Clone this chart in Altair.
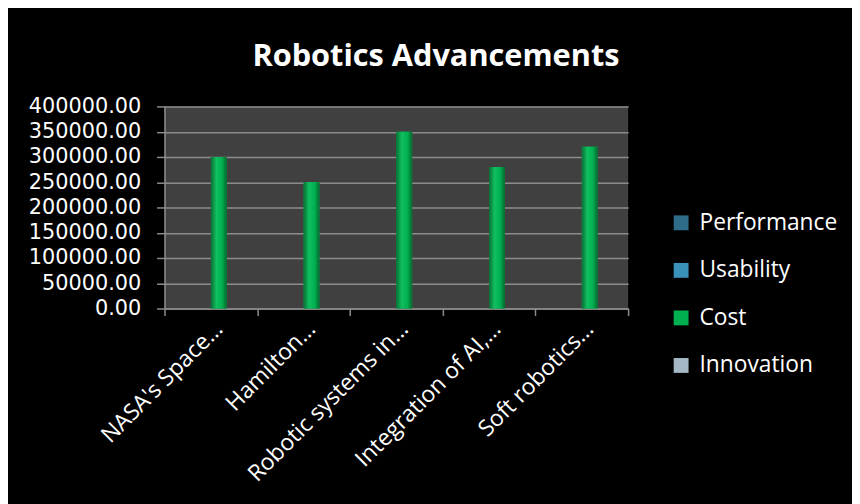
import altair as alt
import pandas as pd

categories = ["NASA's Space…", "Hamilton…", "Robotic systems in…", "Integration of AI,…", "Soft robotics…"]
series_names = ["Performance", "Usability", "Cost", "Innovation"]
performance = [0, 0, 0, 0, 0]
usability = [0, 0, 0, 0, 0]
cost = [300000, 250000, 350000, 280000, 320000]
innovation = [0, 0, 0, 0, 0]
series_colors = ["#2E6C89", "#3A92BA", "#00B050", "#A4B8C5"]
y_ticks = [0, 50000, 100000, 150000, 200000, 250000, 300000, 350000, 400000]

rows = []
for name, vals in zip(series_names, [performance, usability, cost, innovation]):
    for c, v in zip(categories, vals):
        rows.append({"category": c, "series": name, "value": v})
df = pd.DataFrame(rows)

FONT = "Open Sans"

x_enc = alt.X("category:N", sort=categories, title=None,
              scale=alt.Scale(paddingInner=0, paddingOuter=0),
              axis=alt.Axis(labelAngle=-45, labelAlign="right", labelBaseline="top",
                            labelColor="white", labelFontSize=23, labelFont=FONT,
                            labelPadding=2, tickBand="extent", tickSize=7,
                            tickColor="#8c8c8c", tickWidth=1.5, domainColor="#8c8c8c",
                            domainWidth=1.5, grid=False, labelLimit=300))
xoff_enc = alt.XOffset("series:N", sort=series_names,
                       scale=alt.Scale(paddingInner=0, paddingOuter=0.925))
y_enc = alt.Y("value:Q", title=None,
              scale=alt.Scale(domain=[0, 400000], nice=False),
              axis=alt.Axis(values=y_ticks, format=".2f", labelColor="white",
                            labelFontSize=21, labelFont="DejaVu Sans", labelPadding=16,
                            tickSize=8, tickColor="#8c8c8c", tickWidth=1.5,
                            domainColor="#8c8c8c", domainWidth=1.5,
                            gridColor="#8c8c8c", gridWidth=1.5))

base = alt.Chart(df).encode(x=x_enc, xOffset=xoff_enc, y=y_enc)

bars = base.mark_bar().encode(
    color=alt.Color("series:N", sort=series_names,
                    scale=alt.Scale(domain=series_names, range=series_colors),
                    legend=alt.Legend(title=None, orient="none", legendX=510, legendY=106,
                                      symbolType="square", symbolSize=225,
                                      symbolStrokeWidth=0, labelColor="white",
                                      labelFontSize=23, labelFont=FONT,
                                      rowPadding=24, labelOffset=7))
)

grad = alt.Gradient(gradient="linear", x1=0, x2=1, y1=0, y2=0,
                    stops=[alt.GradientStop(color="#0a6e36", offset=0),
                           alt.GradientStop(color="#10c060", offset=0.35),
                           alt.GradientStop(color="#00b050", offset=0.7),
                           alt.GradientStop(color="#07682f", offset=1)])
cost_bars = base.transform_filter(alt.datum.series == "Cost").mark_bar(fill=grad)

chart = alt.layer(bars, cost_bars).properties(
    width=468, height=204,
    autosize=alt.AutoSizeParams(type="none"),
    padding={"left": 158, "top": 97, "right": 226, "bottom": 195},
    title=alt.TitleParams("Robotics Advancements", color="white", fontSize=31,
                          font=FONT, fontWeight="bold", anchor="middle", dx=40,
                          offset=23),
).configure(background="black").configure_view(fill="#404040", stroke=None)

chart.save("out.html", embed_options={"renderer": "svg", "actions": False})
